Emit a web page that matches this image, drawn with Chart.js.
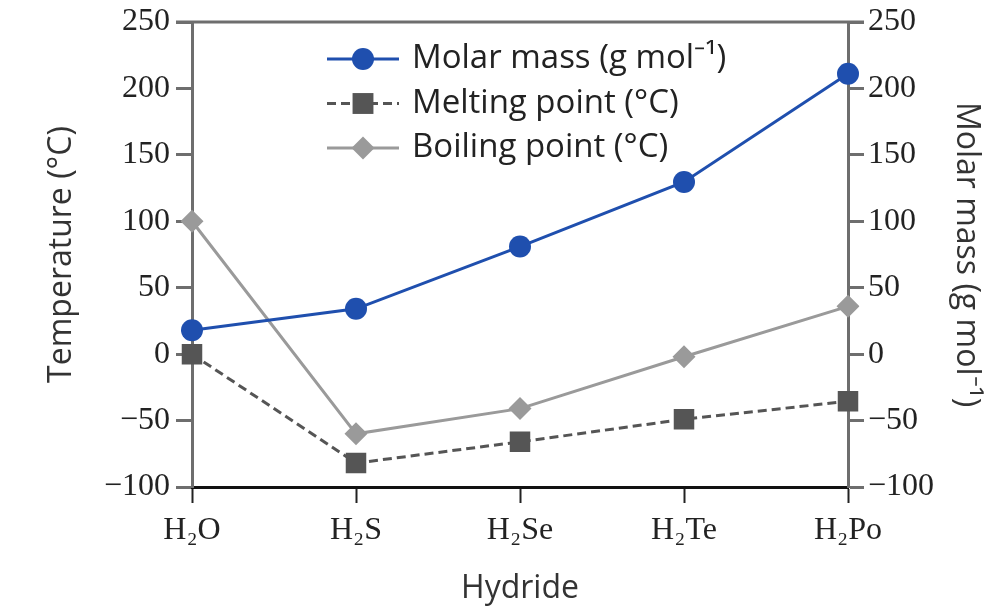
<!DOCTYPE html>
<html>
<head>
<meta charset="utf-8">
<script src="https://cdn.jsdelivr.net/npm/chart.js@4"></script>
<style>
  html, body { margin: 0; padding: 0; background: #fff; }
  #wrap { width: 1005px; height: 612px; }
</style>
</head>
<body>
<div id="wrap"><canvas id="hydrideChart"></canvas></div>
<script>
// data
const hydrides = ['H\u2082O', 'H\u2082S', 'H\u2082Se', 'H\u2082Te', 'H\u2082Po'];
const molarMass = [18, 34.1, 81, 129.6, 211];
const meltingPoint = [0, -82, -66, -49, -35.5];
const boilingPoint = [100, -60, -41, -2, 36];
const tempTicks = [-100, -50, 0, 50, 100, 150, 200, 250];

const BLUE = '#1f4fae';
const DARK = '#555555';
const LIGHT = '#9a9a9a';

// legend drawn inside the plot, line + marker like the original
const insideLegend = {
    id: 'insideLegend',
    afterDraw(chart) {
        const ctx = chart.ctx;
        const area = chart.chartArea;
        const x0 = area.left + 135;
        const x1 = x0 + 72;
        let y = area.top + 37;
        chart.data.datasets.forEach(function(ds) {
            ctx.save();
            ctx.strokeStyle = ds.borderColor;
            ctx.lineWidth = ds.borderWidth;
            ctx.setLineDash(ds.borderDash || []);
            ctx.beginPath();
            ctx.moveTo(x0, y);
            ctx.lineTo(x1, y);
            ctx.stroke();
            ctx.setLineDash([]);
            ctx.fillStyle = ds.pointBackgroundColor;
            const cx = (x0 + x1) / 2;
            const r = ds.pointRadius;
            ctx.beginPath();
            if (ds.pointStyle === 'circle') {
                ctx.arc(cx, y, r, 0, Math.PI * 2);
            } else if (ds.pointStyle === 'rect') {
                ctx.rect(cx - r * 0.72, y - r * 0.72, r * 1.44, r * 1.44);
            } else {
                ctx.moveTo(cx, y - r); ctx.lineTo(cx + r, y);
                ctx.lineTo(cx, y + r); ctx.lineTo(cx - r, y);
                ctx.closePath();
            }
            ctx.fill();
            ctx.fillStyle = '#222';
            ctx.font = '33px "Open Sans"';
            ctx.textBaseline = 'middle';
            ctx.textAlign = 'left';
            ctx.fillText(ds.label, x1 + 13, y);
            ctx.restore();
            y += 44.5;
        });
    }
};

// thin line closing the top of the plot
const topLine = {
    id: 'topLine',
    afterDatasetsDraw(chart) {
        const ctx = chart.ctx;
        const a = chart.chartArea;
        ctx.save();
        ctx.strokeStyle = '#6e6e6e';
        ctx.lineWidth = 3;
        ctx.beginPath();
        ctx.moveTo(a.left - 16, a.top);
        ctx.lineTo(a.right + 16, a.top);
        ctx.stroke();
        ctx.restore();
    }
};

const tickFont = { family: '"Liberation Serif", "Times New Roman", serif', size: 32, lineHeight: 1 };
const titleFont = { family: '"Open Sans"', size: 32 };

new Chart(document.getElementById('hydrideChart'), {
    type: 'line',
    data: {
        labels: hydrides,
        datasets: [{
            label: 'Molar mass (g mol\u207B\u00B9)',
            data: molarMass,
            yAxisID: 'y2',
            borderColor: BLUE,
            backgroundColor: BLUE,
            pointBackgroundColor: BLUE,
            pointBorderWidth: 0,
            borderWidth: 3,
            pointStyle: 'circle',
            pointRadius: 11,
            tension: 0
        }, {
            label: 'Melting point (\u00B0C)',
            data: meltingPoint,
            yAxisID: 'y',
            borderColor: DARK,
            backgroundColor: DARK,
            pointBackgroundColor: DARK,
            pointBorderWidth: 0,
            borderWidth: 3,
            borderDash: [9, 5],
            pointStyle: 'rect',
            pointRadius: 14.5,
            tension: 0
        }, {
            label: 'Boiling point (\u00B0C)',
            data: boilingPoint,
            yAxisID: 'y',
            borderColor: LIGHT,
            backgroundColor: LIGHT,
            pointBackgroundColor: LIGHT,
            pointBorderWidth: 0,
            borderWidth: 3,
            pointStyle: 'rectRot',
            pointRadius: 11.5,
            tension: 0
        }]
    },
    options: {
        responsive: true,
        maintainAspectRatio: false,
        animation: false,
        layout: { padding: { top: 1, left: 0, right: 0, bottom: 0 } },
        plugins: {
            legend: { display: false },
            tooltip: { enabled: false }
        },
        scales: {
            x: {
                offset: false,
                grid: { drawOnChartArea: false, tickLength: 16, tickColor: '#222', tickWidth: 2 },
                border: { color: '#111', width: 3 },
                ticks: { font: tickFont, color: '#222', padding: 12, maxRotation: 0 },
                title: { display: true, text: 'Hydride', font: titleFont, color: '#333', padding: { top: 8 } },
                afterFit: function(s) { s.height = 125; }
            },
            y: {
                position: 'left',
                min: -100, max: 250,
                afterBuildTicks: function(s) { s.ticks = tempTicks.map(v => ({ value: v })); },
                grid: { drawOnChartArea: false, tickLength: 16, tickColor: '#6e6e6e', tickWidth: 3 },
                border: { color: '#6e6e6e', width: 3 },
                ticks: { font: tickFont, color: '#222', padding: 6,
                    callback: v => v < 0 ? '\u2212' + Math.abs(v) : v },
                title: { display: true, text: 'Temperature (\u00B0C)', font: titleFont, color: '#333', padding: { top: 43, bottom: 0 } },
                afterFit: function(s) { s.width = 192; }
            },
            y2: {
                position: 'right',
                min: -100, max: 250,
                afterBuildTicks: function(s) { s.ticks = tempTicks.map(v => ({ value: v })); },
                grid: { drawOnChartArea: false, tickLength: 16, tickColor: '#6e6e6e', tickWidth: 3 },
                border: { color: '#6e6e6e', width: 3 },
                ticks: { font: tickFont, color: '#222', padding: 4,
                    callback: v => v < 0 ? '\u2212' + Math.abs(v) : v },
                title: { display: true, text: 'Molar mass (g mol\u207B\u00B9)', font: titleFont, color: '#333', padding: { top: 20, bottom: 0 } },
                afterFit: function(s) { s.width = 157; }
            }
        }
    },
    plugins: [insideLegend, topLine]
});
</script>
</body>
</html>
